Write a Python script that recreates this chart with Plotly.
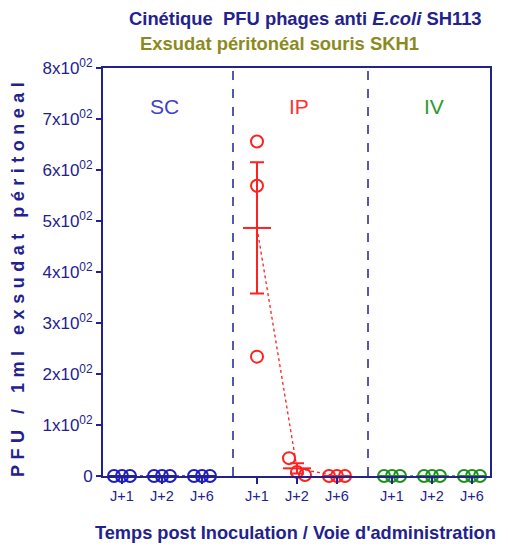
import numpy as np
import plotly.graph_objects as go

# ---- data ----
groups = ["SC", "IP", "IV"]
days = ["J+1", "J+2", "J+6"]
sc_values = [[0, 0, 0], [0, 0, 0], [0, 0, 0]]
ip_values = [[656, 569, 234], [35, 8, 2], [0, 0, 0]]
iv_values = [[0, 0, 0], [0, 0, 0], [0, 0, 0]]
y_ticks = [0, 100, 200, 300, 400, 500, 600, 700, 800]
y_ticktext = ["0"] + [f"{k}x10<sup>02</sup>" for k in range(1, 9)]

# ---- style ----
NAVY = "#22228f"
OLIVE = "#8c8a1e"
FONT = "Liberation Sans, Arial, sans-serif"
group_colors = ["#1c1cc0", "#ff2020", "#1f8f1f"]
label_colors = ["#4040d0", "#ff3030", "#2a9a2a"]
GROUP_STEP = 3.375
SEP_OFFSET = 0.775
SPREAD = 0.2

all_values = [sc_values, ip_values, iv_values]

fig = go.Figure()
tickvals, ticktext = [], []
for g, (gname, vals, col) in enumerate(zip(groups, all_values, group_colors)):
    xs_mean, means, sems = [], [], []
    for d, day in enumerate(days):
        xc = g * GROUP_STEP + d
        tickvals.append(xc)
        ticktext.append(day)
        v = np.array(vals[d], dtype=float)
        n = len(v)
        if v.max() - v.min() < 60:
            offs = (np.arange(n) - (n - 1) / 2) * SPREAD
        else:
            offs = np.zeros(n)
        fig.add_trace(go.Scatter(
            x=xc + offs, y=v, mode="markers", cliponaxis=False,
            marker=dict(symbol="circle-open", size=12, color=col,
                        line=dict(width=2, color=col)),
            showlegend=False, hoverinfo="skip"))
        xs_mean.append(xc)
        means.append(v.mean())
        sems.append(v.std(ddof=1) / np.sqrt(n))
    # connecting dashed line through means
    fig.add_trace(go.Scatter(
        x=xs_mean, y=means, mode="lines", cliponaxis=False,
        line=dict(color=col, width=1.3, dash="dot"),
        showlegend=False, hoverinfo="skip"))
    # mean bars + SEM
    fig.add_trace(go.Scatter(
        x=xs_mean, y=means, mode="markers", cliponaxis=False,
        marker=dict(symbol="line-ew", size=20, color=col,
                    line=dict(width=2, color=col)),
        error_y=dict(type="data", array=sems, visible=True,
                     color=col, thickness=2, width=7),
        showlegend=False, hoverinfo="skip"))
    # group label
    fig.add_annotation(x=g * GROUP_STEP + 1.05, y=725, xref="x", yref="y",
                       text=gname, showarrow=False,
                       font=dict(family=FONT, size=21, color=label_colors[g]))
    # separator
    if g < len(groups) - 1:
        sx = g * GROUP_STEP + 2 + SEP_OFFSET
        fig.add_shape(type="line", x0=sx, x1=sx, y0=0, y1=800, xref="x", yref="y",
                      line=dict(color=NAVY, width=1.5, dash="dash"))

fig.update_xaxes(range=[-0.475, 2 * GROUP_STEP + 2 + 0.45],
                 tickvals=tickvals, ticktext=ticktext, automargin=False,
                 showline=True, linecolor=NAVY, linewidth=2, mirror=True,
                 ticks="outside", ticklen=6, tickwidth=1.5, tickcolor=NAVY,
                 showgrid=False, zeroline=False,
                 tickfont=dict(family=FONT, size=14.5, color=NAVY))
fig.update_yaxes(range=[0, 800], tickvals=y_ticks, ticktext=y_ticktext,
                 automargin=False,
                 showline=True, linecolor=NAVY, linewidth=2, mirror=True,
                 ticks="outside", ticklen=5, tickwidth=1.5, tickcolor=NAVY,
                 showgrid=False, zeroline=False,
                 tickfont=dict(family=FONT, size=17, color=NAVY))

fig.add_annotation(xref="paper", yref="paper", x=-0.2196, y=0.488,
                   text='<span style="letter-spacing:5.5px"><b>PFU / 1ml exsudat péritoneal</b></span>',
                   textangle=-90,
                   showarrow=False, xanchor="center", yanchor="middle",
                   font=dict(family=FONT, size=18, color=NAVY))
fig.add_annotation(xref="paper", yref="paper", x=0.497, y=-0.14,
                   text="<b>Temps post Inoculation / Voie d'administration</b>",
                   showarrow=False, xanchor="center", yanchor="middle",
                   font=dict(family=FONT, size=18.2, color=NAVY))
fig.add_annotation(xref="paper", yref="paper", x=0.522, y=1.1225,
                   text="<b>Cinétique  PFU phages anti <i>E.coli</i> SH113</b>",
                   showarrow=False, xanchor="center", yanchor="middle",
                   font=dict(family=FONT, size=18.4, color=NAVY))
fig.add_annotation(xref="paper", yref="paper", x=0.455, y=1.061,
                   text="<b>Exsudat péritonéal souris SKH1</b>",
                   showarrow=False, xanchor="center", yanchor="middle",
                   font=dict(family=FONT, size=18.4, color=OLIVE))

# page body keeps an 8px default margin: figure sized to fill the rest of the window
fig.update_layout(width=500, height=544,
                  margin=dict(l=95, r=18, t=60, b=76),
                  plot_bgcolor="white", paper_bgcolor="white",
                  showlegend=False)

fig.write_html("out.html")
